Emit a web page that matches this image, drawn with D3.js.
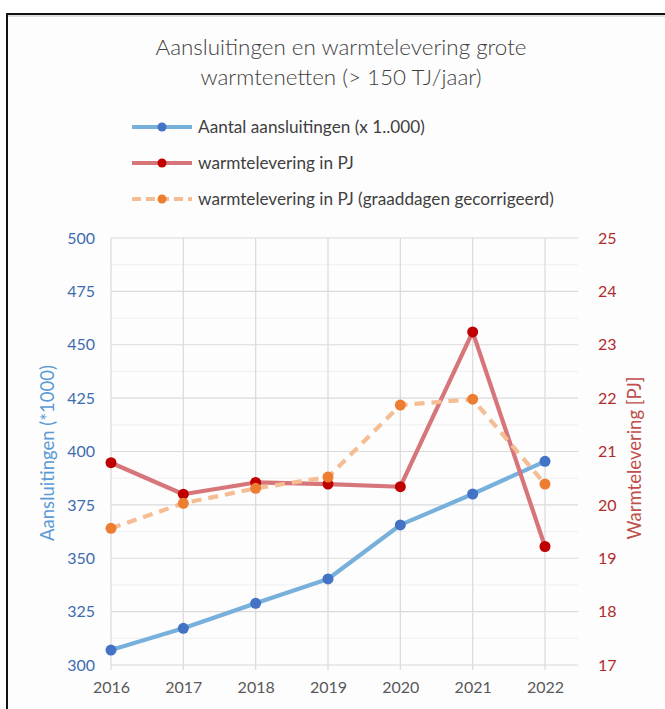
<!DOCTYPE html>
<html>
<head>
<meta charset="utf-8">
<script src="https://cdn.jsdelivr.net/npm/d3@7"></script>
<style>
  html, body { margin: 0; padding: 0; background: #fff; }
  svg { display: block; font-family: Lato, "Open Sans", sans-serif; }
</style>
</head>
<body>
<div id="chart"></div>
<script>
  // data
  var years = [2016, 2017, 2018, 2019, 2020, 2021, 2022];
  var aansluitingen = [307, 317.2, 328.9, 340.3, 365.6, 380.1, 395.4]; // x 1000
  var levering = [20.79, 20.2, 20.42, 20.39, 20.34, 23.24, 19.22]; // PJ
  var leveringGecorr = [19.56, 20.03, 20.31, 20.52, 21.87, 21.98, 20.39]; // PJ
  var leftTicks = [300, 325, 350, 375, 400, 425, 450, 475, 500];
  var rightTicks = [17, 18, 19, 20, 21, 22, 23, 24, 25];
  var titleLines = ['Aansluitingen en warmtelevering grote', 'warmtenetten (> 150 TJ/jaar)'];
  var legendLabels = ['Aantal aansluitingen (x 1..000)', 'warmtelevering in PJ', 'warmtelevering in PJ (graaddagen gecorrigeerd)'];

  var width = 665;
  var height = 709;
  var plot = { left: 111, right: 545, gridRight: 578, top: 238, bottom: 665 };

  var svg = d3.select('#chart').append('svg').attr('width', width).attr('height', height);

  // frame of the embedded chart
  svg.append('rect').attr('x', 7).attr('y', 14).attr('width', width).attr('height', height)
    .attr('fill', '#fdfdfd').attr('stroke', '#111').attr('stroke-width', 2);
  svg.append('line').attr('x1', 8).attr('x2', width).attr('y1', 16).attr('y2', 16)
    .attr('stroke', '#d6d6d6').attr('stroke-width', 1.5);

  var x = d3.scaleLinear().domain([2016, 2022]).range([plot.left, plot.right]);
  var yLeft = d3.scaleLinear().domain([300, 500]).range([plot.bottom, plot.top]);
  var yRight = d3.scaleLinear().domain([17, 25]).range([plot.bottom, plot.top]);

  // minor gridlines halfway
  var minor = d3.range(312.5, 500, 25);
  svg.append('g').selectAll('line').data(minor).enter().append('line')
    .attr('x1', plot.left).attr('x2', plot.gridRight)
    .attr('y1', function(d) { return yLeft(d); }).attr('y2', function(d) { return yLeft(d); })
    .attr('stroke', '#efefef').attr('stroke-width', 1);

  svg.append('g').selectAll('line').data(leftTicks).enter().append('line')
    .attr('x1', plot.left).attr('x2', plot.gridRight)
    .attr('y1', function(d) { return yLeft(d); }).attr('y2', function(d) { return yLeft(d); })
    .attr('stroke', '#dadada').attr('stroke-width', 1.2);

  svg.append('g').selectAll('line').data(years).enter().append('line')
    .attr('x1', function(d) { return x(d); }).attr('x2', function(d) { return x(d); })
    .attr('y1', plot.top).attr('y2', plot.bottom + 5)
    .attr('stroke', '#dadada').attr('stroke-width', 1.2);

  // axes labels
  var axisLeft = svg.append('g').attr('transform', 'translate(' + (plot.left - 16) + ',0)')
    .call(d3.axisLeft(yLeft).tickValues(leftTicks).tickSize(0).tickPadding(0));
  axisLeft.select('.domain').remove();
  axisLeft.selectAll('text').attr('fill', '#3d6cae').style('font-size', '16px').style('font-family', 'Lato, sans-serif');

  var axisRight = svg.append('g').attr('transform', 'translate(' + (plot.gridRight + 20) + ',0)')
    .call(d3.axisRight(yRight).tickValues(rightTicks).tickSize(0).tickPadding(0));
  axisRight.select('.domain').remove();
  axisRight.selectAll('text').attr('fill', '#b02c2c').style('font-size', '16px').style('font-family', 'Lato, sans-serif');

  var axisBottom = svg.append('g').attr('transform', 'translate(0,' + (plot.bottom + 17) + ')')
    .call(d3.axisBottom(x).tickValues(years).tickFormat(d3.format('d')).tickSize(0).tickPadding(0));
  axisBottom.select('.domain').remove();
  axisBottom.selectAll('text').attr('fill', '#595959').style('font-size', '16px').style('font-family', 'Lato, sans-serif');

  svg.append('text').attr('transform', 'translate(54,453) rotate(-90)')
    .attr('text-anchor', 'middle').attr('fill', '#5b9bd5').style('font-size', '18.5px')
    .text('Aansluitingen (*1000)');
  svg.append('text').attr('transform', 'translate(641,458) rotate(-90)')
    .attr('text-anchor', 'middle').attr('fill', '#c0504d').style('font-size', '18.5px')
    .text('Warmtelevering [PJ]');

  // title
  svg.append('g').selectAll('text').data(titleLines).enter().append('text')
    .attr('x', 341).attr('y', function(d, i) { return 55 + i * 30; })
    .attr('text-anchor', 'middle').attr('fill', '#404040')
    .style('font-size', '22.4px').style('font-weight', 300)
    .text(function(d) { return d; });

  // series
  var series = [
    { values: aansluitingen, scale: yLeft, line: '#78b0dc', dot: '#4472c4', dash: null },
    { values: levering, scale: yRight, line: '#d6757a', dot: '#c00000', dash: null },
    { values: leveringGecorr, scale: yRight, line: '#f5bd93', dot: '#ed7d31', dash: '10,7' }
  ];

  series.forEach(function(s) {
    var line = d3.line()
      .x(function(d, i) { return x(years[i]); })
      .y(function(d) { return s.scale(d); });
    svg.append('path').datum(s.values)
      .attr('d', line).attr('fill', 'none')
      .attr('stroke', s.line).attr('stroke-width', 4.2).attr('stroke-linejoin', 'round')
      .attr('stroke-dasharray', s.dash);
  });
  series.forEach(function(s) {
    svg.append('g').selectAll('circle').data(s.values).enter().append('circle')
      .attr('cx', function(d, i) { return x(years[i]); })
      .attr('cy', function(d) { return s.scale(d); })
      .attr('r', 5.5).attr('fill', s.dot);
  });

  // legend
  var legend = svg.append('g').selectAll('g').data(series).enter().append('g')
    .attr('transform', function(d, i) { return 'translate(0,' + (127 + i * 36) + ')'; });
  legend.append('line').attr('x1', 132).attr('x2', 192).attr('y1', 0).attr('y2', 0)
    .attr('stroke', function(d) { return d.line; }).attr('stroke-width', 4)
    .attr('stroke-dasharray', function(d) { return d.dash ? '9,5' : null; });
  legend.append('circle').attr('cx', 162).attr('cy', 0).attr('r', 4.5)
    .attr('fill', function(d) { return d.dot; });
  legend.append('text').attr('x', 198).attr('y', 6)
    .attr('fill', '#404040').style('font-size', '17.2px')
    .text(function(d, i) { return legendLabels[i]; });
</script>
</body>
</html>
